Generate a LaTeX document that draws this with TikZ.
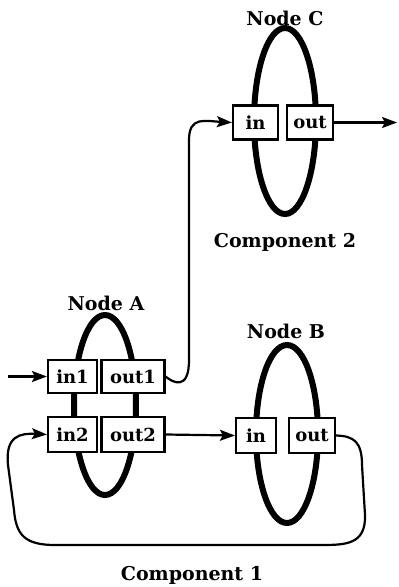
\documentclass[tikz,border=0pt]{standalone}
\usepackage{fontspec}
\setmainfont{DejaVu Serif}
\usetikzlibrary{arrows.meta}
\begin{document}
\begin{tikzpicture}[x=1pt,y=-1pt,
  ring/.style={draw,line width=6pt},
  port/.style={draw,line width=2.2pt,fill=white,inner sep=0pt,font=\fontsize{18}{21}\selectfont\bfseries},
  lbl/.style={inner sep=0pt,anchor=base,font=\fontsize{19}{22}\selectfont\bfseries},
  conn/.style={line width=2.2pt,-{Stealth[length=15pt,width=11pt,inset=3pt]}}]
\useasboundingbox (0,0) rectangle (399,587);
% ellipses
\draw[ring] (105,405) ellipse [x radius=31, y radius=90];
\draw[ring] (287,434) ellipse [x radius=31, y radius=89];
\draw[ring] (285,121) ellipse [x radius=31, y radius=93];
% ports
\node[port,minimum width=49pt,minimum height=33pt] (inA1) at (72.5,376.5) {in1};
\node[port,minimum width=63pt,minimum height=33pt] (outA1) at (133,376.5) {out1};
\node[port,minimum width=49pt,minimum height=35pt] (inA2) at (72.5,434.5) {in2};
\node[port,minimum width=63pt,minimum height=35pt] (outA2) at (133,434.5) {out2};
\node[port,minimum width=40pt,minimum height=35pt] (inB) at (256,435.5) {in};
\node[port,minimum width=46pt,minimum height=35pt] (outB) at (312,435.5) {out};
\node[port,minimum width=45pt,minimum height=34pt] (inC) at (255.5,122.5) {in};
\node[port,minimum width=46pt,minimum height=34pt] (outC) at (310,122.5) {out};
% labels
\node[lbl] (lA) at (106,310) {Node A};
\node[lbl] (lB) at (286,338) {Node B};
\node[lbl] (lC) at (285,25) {Node C};
\node[lbl] (c2) at (285,247) {Component 2};
\node[lbl] (c1) at (192,580) {Component 1};
% free ends
\coordinate (src) at (8,376.5);
\coordinate (snk) at (397,122.5);
% connectors
\draw[conn] (src) -- (inA1.west);
\draw[conn] (outC.east) -- (snk);
\draw[conn] (outA2.east) -- (inB.west);
\draw[conn] (outA1.east) .. controls (172,382) and (189,392) .. (189,360) -- (189,140)
  .. controls (189,116) and (205,121) .. (inC.west);
\draw[conn] (outB.east) .. controls (354,436) and (362,442) .. (362,465) -- (365,515)
  .. controls (366,545) and (345,545) .. (320,545) -- (55,545)
  .. controls (25,545) and (16,535) .. (14,510) -- (8,465)
  .. controls (5,436) and (20,433) .. (inA2.west);
\end{tikzpicture}
\end{document}
